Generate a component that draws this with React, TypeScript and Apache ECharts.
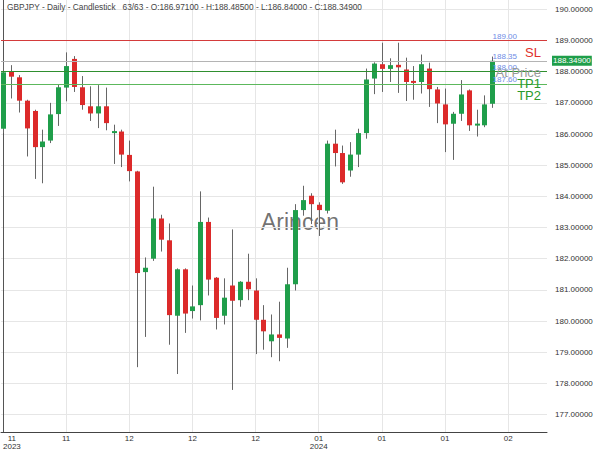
import React, { useEffect, useRef } from 'react';
import * as echarts from 'echarts';

// ---- data ----
const opens = [
  186.17, 187.99, 187.82, 187.07, 186.74, 185.58, 185.79, 186.64, 187.49, 188.41,
  187.50, 186.89, 186.66, 186.89, 186.03, 186.08, 185.33, 184.80, 181.57, 182.00,
  183.29, 182.59, 180.17, 181.66, 180.32, 180.51, 183.18, 181.39, 180.17, 181.14,
  180.67, 181.26, 180.98, 180.04, 179.35, 179.57, 179.44, 181.18, 183.56, 184.02,
  183.73, 183.54, 185.69, 185.39, 184.83, 185.34, 186.03, 187.78, 188.24, 188.09,
  188.22, 188.07, 187.68, 187.67, 188.10, 187.43, 186.95, 186.33, 186.65, 187.40,
  186.27, 186.28, 186.971,
];
const closes = [
  187.98, 187.84, 187.07, 186.18, 185.58, 185.76, 186.63, 187.50, 188.18, 187.51,
  186.93, 186.66, 186.89, 186.35, 186.09, 185.34, 184.81, 181.54, 181.71, 183.29,
  182.61, 180.19, 181.66, 180.24, 180.47, 183.18, 181.33, 180.10, 180.75, 180.65,
  181.26, 181.02, 180.04, 179.67, 179.57, 179.46, 181.18, 183.56, 183.88, 183.75,
  183.56, 185.69, 185.39, 184.45, 185.34, 186.03, 187.75, 188.26, 188.09, 188.21,
  188.14, 187.67, 187.64, 188.24, 187.44, 186.98, 186.31, 186.65, 187.27, 186.28,
  186.29, 186.95, 188.349,
];
const lows = [
  186.03, 187.14, 186.69, 185.28, 184.56, 184.42, 185.71, 186.26, 187.05, 187.35,
  186.78, 186.42, 186.19, 186.12, 185.04, 184.94, 184.48, 178.52, 179.49, 181.93,
  182.23, 179.24, 178.30, 179.62, 180.08, 180.02, 180.82, 179.73, 179.89, 177.79,
  180.46, 180.67, 178.94, 179.08, 178.84, 178.71, 179.14, 180.98, 183.38, 183.11,
  182.73, 183.45, 184.96, 184.40, 184.63, 184.94, 185.85, 187.28, 187.35, 187.67,
  187.32, 187.06, 187.10, 187.30, 186.87, 186.35, 185.42, 185.17, 186.42, 186.10,
  185.92, 186.22, 186.84,
];
const highs = [
  188.30, 188.21, 187.89, 187.10, 186.78, 186.14, 187.00, 187.59, 188.62, 188.50,
  187.86, 187.53, 187.57, 187.49, 186.30, 186.14, 185.79, 184.82, 182.04, 184.31,
  183.41, 183.13, 181.69, 181.69, 181.14, 184.16, 183.32, 181.41, 181.37, 182.94,
  181.28, 182.16, 181.37, 180.51, 180.21, 180.62, 181.71, 183.75, 184.34, 184.10,
  183.81, 185.79, 186.14, 185.63, 185.74, 186.17, 188.10, 188.30, 188.93, 188.43,
  188.93, 188.45, 188.18, 188.55, 188.29, 187.51, 187.46, 186.71, 187.73, 187.43,
  186.78, 187.24, 188.485,
];

const xTickIndex = [0, 8, 16, 24, 32, 40, 48, 56, 64];
const xTickLabels = ['11\n2023', '11', '12', '12', '12', '01\n2024', '01', '01', '02'];
const yTicks = [177, 178, 179, 180, 181, 182, 183, 184, 185, 186, 187, 188, 189, 190];

const currentPrice = 188.349;
const levelValues = [189.0, 188.349, 188.0, 187.6];
const levelColors = ['#d43b3b', '#b4b4b4', '#2f8f2f', '#5cb85c'];

const signalNames = ['SL', 'At Price', 'TP1', 'TP2'];
const signalLevels = [189.0, 188.0, 187.6, 187.6];
const signalColors = ['#e0302a', '#9a9a9a', '#2a9a2a', '#2a9a2a'];
const signalShift = [5.3, -5.5, -7.3, 4.6];

const titleText =
  'GBPJPY - Daily - Candlestick   63/63 - O:186.97100 - H:188.48500 - L:186.84000 - C:188.34900';

const GREEN = '#1f9e4a';
const RED = '#dc2a2a';
const BLUE = '#6e8ce6';
const FONT = '"Liberation Sans", Arial, sans-serif';
const HIDDEN_LINE = { color: 'rgba(0,0,0,0)', width: 0 };

export default function App() {
  const ref = useRef<HTMLDivElement>(null);

  useEffect(() => {
    if (!ref.current) return;
    const chart = echarts.init(ref.current, undefined, { renderer: 'svg' });
    const data = opens.map((o, i) => [i, o, closes[i], lows[i], highs[i]]);

    const markData: any[] = [];
    levelValues.forEach((v, k) => {
      markData.push({
        yAxis: v,
        lineStyle: { color: levelColors[k], width: 1, type: 'solid' },
        label: {
          show: true,
          position: 'insideEndTop',
          formatter: v.toFixed(2),
          color: BLUE,
          fontSize: 8,
          fontFamily: FONT,
          distance: [30, 0.5],
        },
      });
    });
    markData.push({
      yAxis: currentPrice,
      lineStyle: HIDDEN_LINE,
      label: {
        show: true,
        position: 'end',
        formatter: currentPrice.toFixed(5),
        color: '#fff',
        backgroundColor: GREEN,
        padding: [1, 1],
        fontSize: 8,
        fontFamily: FONT,
        distance: [5, 0],
      },
    });
    signalNames.forEach((n, k) => {
      markData.push({
        yAxis: signalLevels[k],
        lineStyle: HIDDEN_LINE,
        label: {
          show: true,
          position: 'insideEndBottom',
          formatter: n,
          color: signalColors[k],
          fontSize: 13,
          fontFamily: FONT,
          distance: [6, signalShift[k]],
        },
      });
    });

    chart.setOption({
      animation: false,
      textStyle: { fontFamily: FONT },
      title: {
        text: titleText,
        left: 7,
        top: 3,
        padding: 0,
        textStyle: { fontSize: 8.3, fontWeight: 'normal', color: '#444', fontFamily: FONT },
      },
      graphic: [
        {
          type: 'text',
          left: 'center',
          top: 210,
          z: 0,
          style: {
            text: 'Arincen',
            fontSize: 23,
            fontFamily: FONT,
            fill: 'rgba(90,90,90,0.85)',
          },
        },
      ],
      grid: { left: 0, right: 53, top: 0, bottom: 18, containLabel: false },
      xAxis: {
        type: 'value',
        min: -0.253,
        max: 68.92,
        axisLine: { show: true, lineStyle: { color: '#444', width: 1 } },
        axisTick: { show: false, customValues: xTickIndex },
        splitLine: { show: true, lineStyle: { color: '#e6e6e6', width: 1 } },
        axisLabel: {
          customValues: xTickIndex,
          alignMinLabel: 'left',
          margin: 2,
          fontSize: 8,
          lineHeight: 8,
          color: '#333',
          formatter: (v: number) => {
            const k = xTickIndex.indexOf(Math.round(v));
            const t = k >= 0 ? xTickLabels[k] : '';
            return t
              .split('\n')
              .map((s) => '{c|' + s + '}')
              .join('\n');
          },
          rich: { c: { align: 'center', fontSize: 8, lineHeight: 8, color: '#333', fontFamily: FONT } },
        },
      },
      yAxis: {
        type: 'value',
        position: 'right',
        min: 176.44,
        max: 190.3,
        axisLine: { show: true, lineStyle: { color: '#555', width: 1 } },
        axisTick: { show: false, customValues: yTicks },
        splitLine: { show: true, lineStyle: { color: '#e6e6e6', width: 1 } },
        axisLabel: {
          customValues: yTicks,
          margin: 8,
          fontSize: 8,
          color: '#333',
          fontFamily: FONT,
          formatter: (v: number) => v.toFixed(5),
        },
      },
      series: [
        {
          type: 'custom',
          z: 2,
          data,
          encode: { x: 0, y: [1, 2, 3, 4] },
          renderItem: (params: any, api: any) => {
            const i = api.value(0);
            const o = api.value(1);
            const c = api.value(2);
            const l = api.value(3);
            const h = api.value(4);
            const pH = api.coord([i, h]);
            const pL = api.coord([i, l]);
            const pO = api.coord([i, o]);
            const pC = api.coord([i, c]);
            const x = Math.round(pH[0]) + 0.5;
            const y1 = Math.min(pO[1], pC[1]);
            const y2 = Math.max(pO[1], pC[1]);
            const hgt = Math.max(y2 - y1, 2);
            const up = c >= o;
            return {
              type: 'group',
              children: [
                {
                  type: 'line',
                  shape: { x1: x, y1: pH[1], x2: x, y2: pL[1] },
                  style: { stroke: '#666', lineWidth: 1 },
                },
                {
                  type: 'rect',
                  shape: { x: x - 2.5, y: y2 - hgt, width: 5, height: hgt },
                  style: { fill: up ? GREEN : RED },
                },
              ],
            };
          },
          markLine: {
            silent: true,
            symbol: ['none', 'none'],
            animation: false,
            data: markData,
          },
        },
      ],
    });
    return () => chart.dispose();
  }, []);

  return <div ref={ref} style={{ width: 600, height: 450, position: 'absolute', left: 0, top: 0 }} />;
}
